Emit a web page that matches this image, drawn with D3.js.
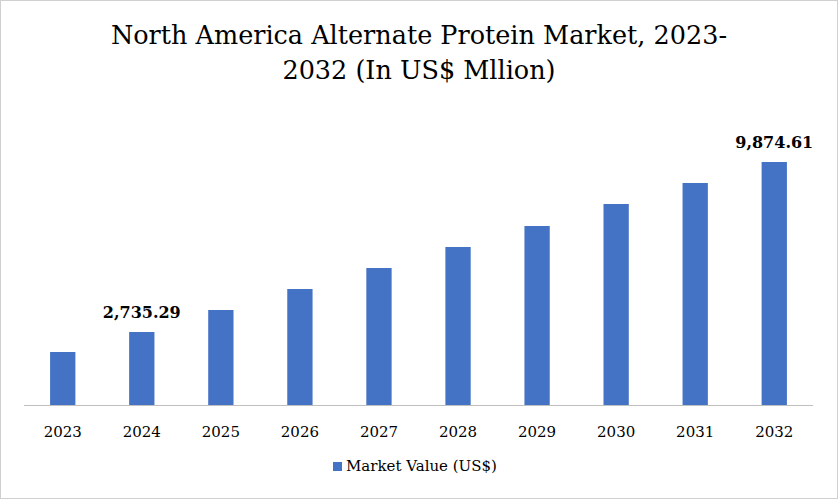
<!DOCTYPE html>
<html><head><meta charset="utf-8">
<script src="https://cdn.jsdelivr.net/npm/d3@7"></script>
<style>body{margin:0;background:#fff}text{font-family:Georgia,"DejaVu Serif","Liberation Serif",serif}</style>
</head><body><svg id="chart" width="838" height="499"></svg>
<script>
var years = ["2023","2024","2025","2026","2027","2028","2029","2030","2031","2032"];
var values = [1895, 2735.29, 3659, 4541, 5423, 6305, 7187, 8111, 8993, 9874.61];
var labelled = ["2024", "2032"];

var svg = d3.select("#chart");
svg.append("rect").attr("x", 0.5).attr("y", 0.5).attr("width", 837).attr("height", 498)
    .attr("fill", "#fff").attr("stroke", "#d0d0d0");

svg.append("text").attr("x", 419).attr("y", 44).attr("text-anchor", "middle")
    .attr("font-size", 25.5).text("North America Alternate Protein Market, 2023-");
svg.append("text").attr("x", 419).attr("y", 79).attr("text-anchor", "middle")
    .attr("font-size", 25.5).text("2032 (In US$ Mllion)");

var x = d3.scaleBand().domain(years).range([24, 813]).paddingInner(0.68).paddingOuter(0.33);
var y = d3.scaleLinear().domain([-331, 9874.61]).range([405, 162]);

svg.selectAll(".bar").data(years).enter().append("rect")
    .attr("x", d => x(d)).attr("width", x.bandwidth())
    .attr("y", (d, i) => y(values[i])).attr("height", (d, i) => y(-331) - y(values[i]))
    .attr("fill", "#4472c4");

svg.append("line").attr("x1", 24).attr("x2", 813).attr("y1", 405.5).attr("y2", 405.5)
    .attr("stroke", "#bfbfbf");

svg.selectAll(".tick").data(years).enter().append("text")
    .attr("x", d => x(d) + x.bandwidth() / 2).attr("y", 437)
    .attr("text-anchor", "middle").attr("font-size", 15).text(d => d);

svg.selectAll(".lbl").data(years.filter(d => labelled.includes(d))).enter().append("text")
    .attr("x", d => x(d) + x.bandwidth() / 2).attr("y", d => y(values[years.indexOf(d)]) - 14)
    .attr("text-anchor", "middle").attr("font-size", 16).attr("font-weight", "bold")
    .text(d => d3.format(",.2f")(values[years.indexOf(d)]));

svg.append("rect").attr("x", 333).attr("y", 462).attr("width", 9).attr("height", 9).attr("fill", "#4472c4");
svg.append("text").attr("x", 346).attr("y", 471).attr("font-size", 15).text("Market Value (US$)");
</script></body></html>
